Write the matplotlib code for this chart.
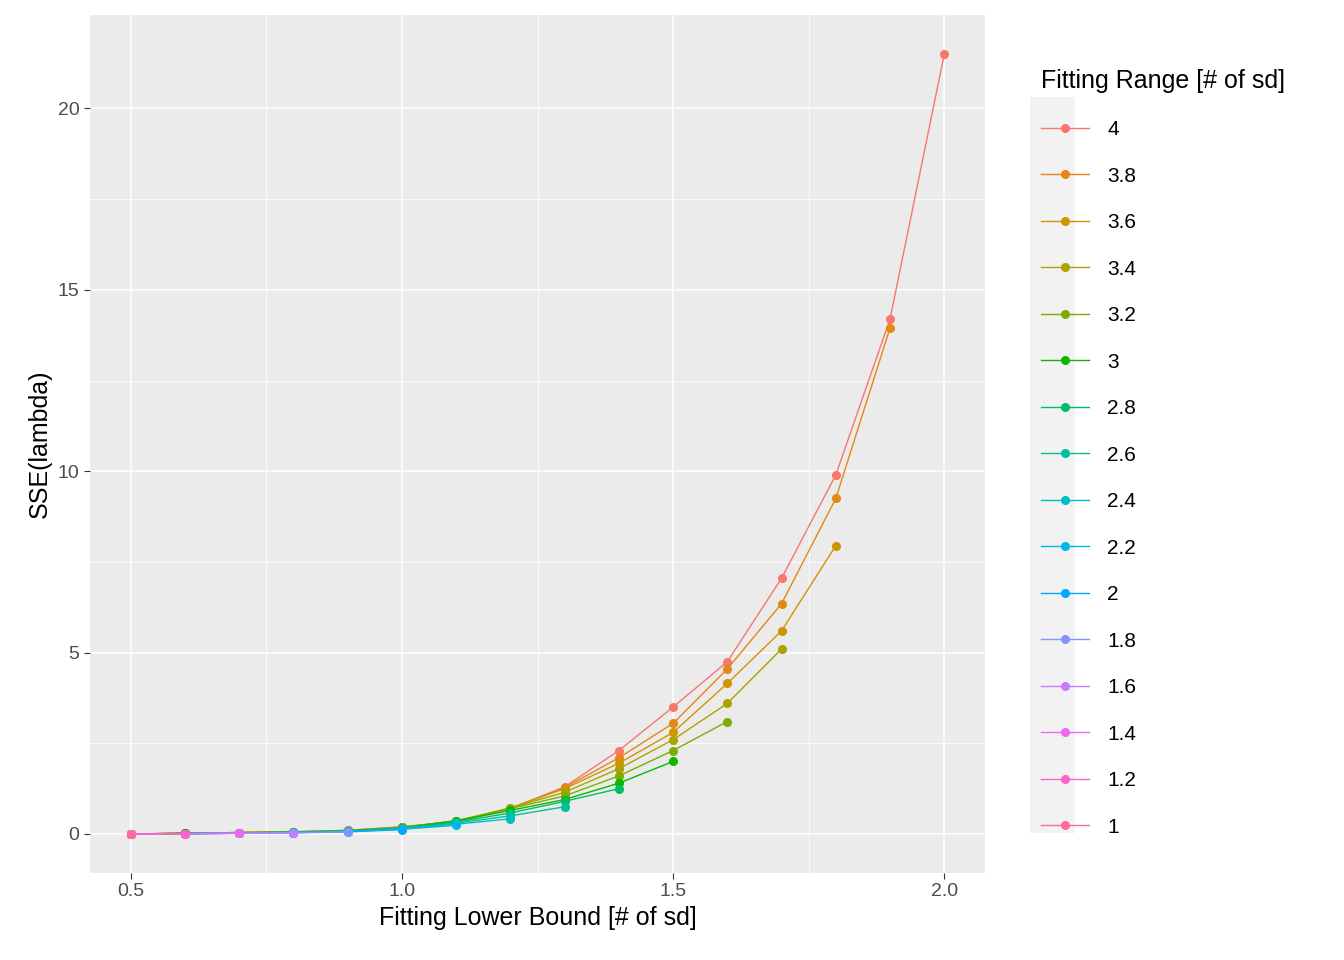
import numpy as np
import matplotlib
matplotlib.use("Agg")
import matplotlib.pyplot as plt
from matplotlib.lines import Line2D
from matplotlib.patches import Rectangle

plt.rcParams['font.family'] = ['Liberation Sans', 'DejaVu Sans']

ranges = ["4","3.8","3.6","3.4","3.2","3","2.8","2.6","2.4","2.2","2","1.8","1.6","1.4","1.2","1"]
x_all = [0.5,0.6,0.7,0.8,0.9,1.0,1.1,1.2,1.3,1.4,1.5,1.6,1.7,1.8,1.9,2.0]
sse = [
 [0.0,0.02,0.04,0.06,0.10,0.20,0.35,0.70,1.30,2.30,3.50,4.75,7.05,9.90,14.20,21.50],
 [0.0,0.02,0.04,0.06,0.10,0.19,0.34,0.70,1.28,2.10,3.05,4.55,6.35,9.25,13.95],
 [0.0,0.02,0.04,0.06,0.10,0.19,0.34,0.72,1.25,1.95,2.80,4.15,5.60,7.95],
 [0.0,0.02,0.04,0.06,0.09,0.18,0.35,0.72,1.15,1.80,2.60,3.60,5.10],
 [0.0,0.02,0.04,0.05,0.09,0.18,0.37,0.70,1.05,1.60,2.30,3.10],
 [0.0,0.02,0.03,0.05,0.09,0.17,0.36,0.65,0.95,1.40,2.00],
 [0.0,0.01,0.03,0.05,0.08,0.16,0.33,0.58,0.90,1.25],
 [0.0,0.01,0.03,0.05,0.08,0.15,0.30,0.50,0.75],
 [0.0,0.01,0.02,0.04,0.07,0.14,0.27,0.42],
 [0.0,0.01,0.02,0.04,0.07,0.13,0.24],
 [0.0,0.01,0.02,0.04,0.06,0.12],
 [0.0,0.01,0.02,0.03,0.06],
 [0.0,0.01,0.02,0.03],
 [0.0,0.01,0.02],
 [0.0,0.01],
 [0.0],
]

def hcl(h, c=100, l=65):
    h = np.deg2rad(h)
    u, v = c*np.cos(h), c*np.sin(h)
    Y = ((l+16)/116)**3 if l > 8 else l/903.3
    Xn, Yn, Zn = 0.95047, 1.0, 1.08883
    un = 4*Xn/(Xn+15*Yn+3*Zn); vn = 9*Yn/(Xn+15*Yn+3*Zn)
    up = u/(13*l)+un; vp = v/(13*l)+vn
    X = Y*9*up/(4*vp); Z = Y*(12-3*up-20*vp)/(4*vp)
    r = 3.2406*X-1.5372*Y-0.4986*Z
    g = -0.9689*X+1.8758*Y+0.0415*Z
    b = 0.0557*X-0.2040*Y+1.0570*Z
    def gam(t):
        t = min(max(t,0),1)
        return 12.92*t if t <= 0.0031308 else 1.055*t**(1/2.4)-0.055
    return (gam(r), gam(g), gam(b))

n = len(ranges)
cols = [hcl(15 + 360*i/n) for i in range(n)]

fig = plt.figure(figsize=(13.44, 9.6), dpi=100)
ax = fig.add_axes([90/1344, 87/960, 895/1344, 858/960])
ax.set_facecolor("#EBEBEB")
for s in ax.spines.values():
    s.set_visible(False)
ax.set_xlim(0.425, 2.075)
ax.set_ylim(-1.075, 22.575)
ax.set_xticks([0.5,1.0,1.5,2.0])
ax.set_xticklabels(["0.5","1.0","1.5","2.0"])
ax.set_yticks([0,5,10,15,20])
ax.set_xticks([0.75,1.25,1.75], minor=True)
ax.set_yticks([2.5,7.5,12.5,17.5], minor=True)
ax.grid(True, which="major", color="white", lw=1.1)
ax.grid(True, which="minor", color="white", lw=0.55)
ax.set_axisbelow(True)
ax.tick_params(which="both", length=4, color="#333333", labelsize=14, labelcolor="#4D4D4D")
ax.tick_params(which="minor", length=0)
for i in range(n):
    ys = sse[i]
    ax.plot(x_all[:len(ys)], ys, color=cols[i], lw=1, marker="o", ms=5.5, zorder=3)
ax.set_xlabel("Fitting Lower Bound [# of sd]", fontsize=18)
ax.set_ylabel("SSE(lambda)", fontsize=18)

fig.patches.append(Rectangle((1030/1344, 1-833/960), 45/1344, 736/960,
                             transform=fig.transFigure, facecolor="#F2F2F2", edgecolor="none"))
handles = [Line2D([], [], color=cols[i], lw=1, marker="o", ms=5.5) for i in range(n)]
leg = fig.legend(handles, ranges, title="Fitting Range [# of sd]", loc="upper left",
                 bbox_to_anchor=(1022/1344, 1-50/960), frameon=False, fontsize=15,
                 title_fontsize=18, labelspacing=1.32, handlelength=2.3, handletextpad=0.9)
leg._legend_box.align = "left"
fig.savefig("out.png", dpi=100)
